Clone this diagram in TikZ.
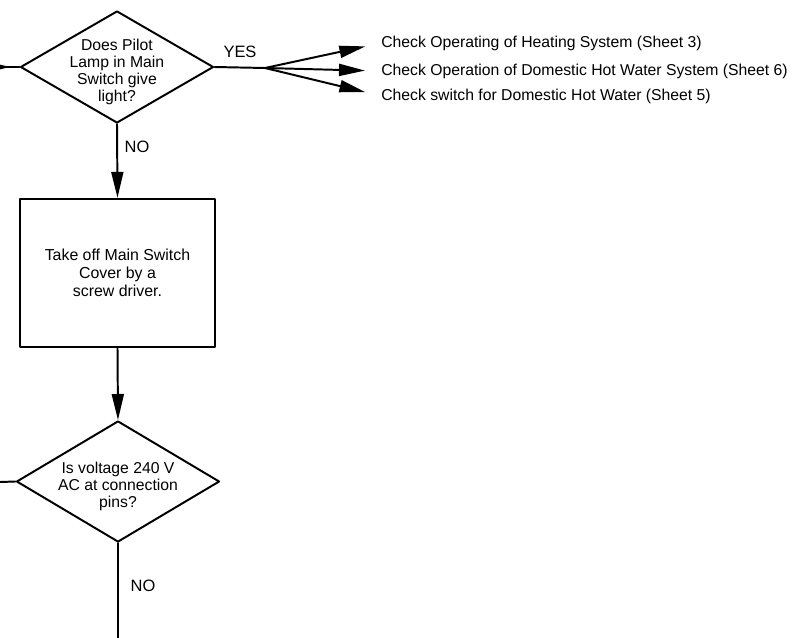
\documentclass[tikz,border=0pt]{standalone}
\usepackage{fontspec}
\setmainfont{Liberation Sans}
\usetikzlibrary{arrows.meta,shapes.geometric}
\tikzset{
  every picture/.append style={line cap=round,line join=round},
  chart line/.style={line width=1.4pt},
  chart arrow/.style={line width=1.4pt,-{Triangle[length=6.5mm,width=3mm]}},
  chart text/.style={font=\fontsize{11.2}{12}\selectfont,align=center}
}
\newcommand{\lowered}{\rule{0pt}{15pt}}

\begin{document}
\begin{tikzpicture}[x=0.025cm,y=-0.025cm,
  question/.style={chart text,shape=diamond,draw,line width=1.4pt,inner sep=-0.15cm},
  action/.style={chart text,font=\fontsize{11.3}{12.8}\selectfont,draw,line width=1.6pt,minimum width=4.875cm,minimum height=3.7cm},
  answer/.style={font=\fontsize{11.7}{13}\selectfont},
  sheet/.style={font=\fontsize{11.2}{13}\selectfont,anchor=west,inner sep=0pt}
]
\useasboundingbox (0,0) rectangle (794,637);

\node[question,aspect=1.72,minimum width=4.825cm,minimum height=2.8cm] (pilot) at (117,67) {\lowered Does Pilot\\ Lamp in Main\\ Switch give\\ light?};
\node[action] (cover) at (117.5,273) {Take off Main Switch\\ Cover by a\\ screw driver.};
\node[question,aspect=1.68,minimum width=5.075cm,minimum height=3.025cm] (volt) at (118,481.5) {\lowered Is voltage 240 V\\ AC at connection\\ pins?};

\node[sheet] (heat) at (381,43) {Check Operating of Heating System (Sheet 3)};
\node[sheet] (water) at (381,71) {Check Operation of Domestic Hot Water System (Sheet 6)};
\node[sheet] (switch) at (381,96) {Check switch for Domestic Hot Water (Sheet 5)};

\node[answer] (yes) at (240,52) {YES};
\node[answer] (no1) at (137,147) {NO};
\node[answer] (no2) at (143,586) {NO};

\coordinate (fork) at (265,68);
\coordinate (in1) at (-30,67);
\coordinate (tip1) at (10,67);
\coordinate (in2) at (0,482);
\coordinate (out2) at (118,645);

\draw[chart line] (in1) -- (pilot.west);
\draw[chart arrow] (in1) -- (tip1);
\draw[chart line] (pilot.east) -- (fork);
\draw[chart arrow,shorten >=0.4cm] (fork) -- (heat.west);
\draw[chart arrow,shorten >=0.4cm] (fork) -- (water.west);
\draw[chart arrow,shorten >=0.4cm] (fork) -- (switch.west);
\draw[chart arrow] (pilot.south) -- (cover.north);
\draw[chart arrow] (cover.south) -- (volt.north);
\draw[chart line] (in2) -- (volt.west);
\draw[chart line] (volt.south) -- (out2);
\end{tikzpicture}
\end{document}
